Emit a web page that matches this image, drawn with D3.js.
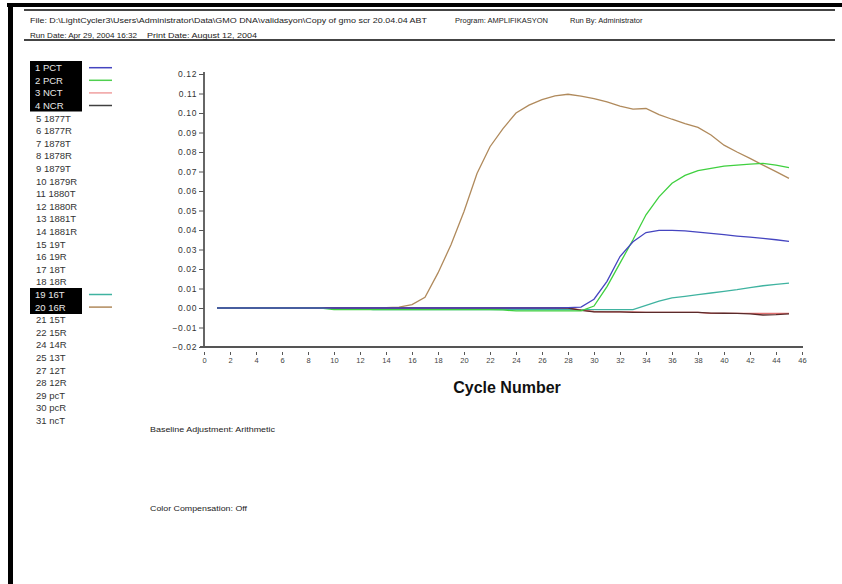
<!DOCTYPE html>
<html><head><meta charset="utf-8">
<script src="https://cdn.jsdelivr.net/npm/d3@7"></script>
<style>html,body{margin:0;padding:0;background:#fff;}svg{display:block;font-family:"Liberation Sans",Arial,sans-serif;}</style>
</head><body><svg id="c" width="842" height="584"></svg>
<script>
const cycles = [1,2,3,4,5,6,7,8,9,10,11,12,13,14,15,16,17,18,19,20,21,22,23,24,25,26,27,28,29,30,31,32,33,34,35,36,37,38,39,40,41,42,43,44,45];
const pct = [0,0,0,0,0,0,0,0,0,0,0,0,0,0,0,0,0,0,0,0,0,0,0,0,0,0,0,0.0002,0.0005,0.0045,0.0137,0.0264,0.034,0.0387,0.0398,0.0398,0.0395,0.0389,0.0383,0.0376,0.0369,0.0363,0.0357,0.035,0.0342];
const pcr = [0,0,0,0,0,0,0,0,0,-0.0008,-0.0008,-0.0008,-0.0008,-0.0008,-0.0008,-0.0008,-0.0008,-0.0008,-0.0008,-0.0008,-0.0008,-0.0008,-0.0010,-0.0015,-0.0015,-0.0015,-0.0015,-0.0015,-0.0015,0.001,0.011,0.023,0.035,0.0478,0.057,0.064,0.068,0.0705,0.0716,0.0728,0.0733,0.0738,0.0742,0.0733,0.072];
const nct = [0,0,0,0,0,0,0,0,0,0,0,0,0,0,0,0,0,0,0,0,0,0,0,0,0,0,0,0,-0.001,-0.0018,-0.002,-0.002,-0.002,-0.0022,-0.0022,-0.0022,-0.0022,-0.0022,-0.0028,-0.0028,-0.0028,-0.0028,-0.0028,-0.0028,-0.0028];
const ncr = [0,0,0,0,0,0,0,0,0,0,0,0,0,0,0,0,0,0,0,0,0,0,0,0,0,0,0,0,-0.0012,-0.002,-0.002,-0.002,-0.0022,-0.0022,-0.0022,-0.0022,-0.0022,-0.0022,-0.0026,-0.0027,-0.0028,-0.003,-0.0036,-0.0034,-0.003];
const s16T = [0,0,0,0,0,0,0,0,0,0,0,0,-0.0008,-0.0008,-0.0008,-0.0008,-0.0008,-0.0008,-0.0008,-0.0008,-0.0008,-0.0008,-0.0008,-0.0008,-0.0008,-0.0008,-0.0008,-0.0008,-0.0008,-0.0008,-0.0008,-0.0008,-0.0008,0.0013,0.0035,0.0052,0.006,0.0069,0.0077,0.0085,0.0094,0.0105,0.0114,0.0121,0.0128];
const s16R = [0,0,0,0,0,0,0,0,0,0,0,0,0.0001,0.0002,0.0005,0.0017,0.0055,0.018,0.0324,0.0495,0.069,0.0827,0.092,0.100,0.104,0.1069,0.1088,0.1096,0.1086,0.1074,0.1057,0.1035,0.102,0.1023,0.0992,0.0968,0.0946,0.0926,0.0887,0.0835,0.080,0.0767,0.0733,0.0699,0.0665];

const legendLabels = ["1 PCT","2 PCR","3 NCT","4 NCR","5 1877T","6 1877R","7 1878T","8 1878R","9 1879T","10 1879R","11 1880T","12 1880R","13 1881T","14 1881R","15 19T","16 19R","17 18T","18 18R","19 16T","20 16R","21 15T","22 15R","24 14R","25 13T","27 12T","28 12R","29 pcT","30 pcR","31 ncT"];
const xTicks = [0,2,4,6,8,10,12,14,16,18,20,22,24,26,28,30,32,34,36,38,40,42,44,46];
const yTicks = [0.12,0.11,0.10,0.09,0.08,0.07,0.06,0.05,0.04,0.03,0.02,0.01,0.00,-0.01,-0.02];

const series = [
  {name:"19 16T", values:s16T, color:"#3fb3a0"},
  {name:"20 16R", values:s16R, color:"#b08a5c"},
  {name:"3 NCT", values:nct, color:"#e07070"},
  {name:"4 NCR", values:ncr, color:"#5a2a2a"},
  {name:"2 PCR", values:pcr, color:"#3fd03f"},
  {name:"1 PCT", values:pct, color:"#4545c0"}
];
const swatch = {"1 PCT":"#4545c0","2 PCR":"#4fd04f","3 NCT":"#f0a0a0","4 NCR":"#404040","19 16T":"#3fb3a0","20 16R":"#b08a5c"};

const svg = d3.select("#c");
// page frame
svg.append("rect").attr("x",7).attr("y",3).attr("width",835).attr("height",4).attr("fill","#000");
svg.append("rect").attr("x",8).attr("y",3).attr("width",5).attr("height",581).attr("fill","#000");
svg.append("rect").attr("x",24).attr("y",9).attr("width",811).attr("height",2).attr("fill","#444");
svg.append("rect").attr("x",24).attr("y",39).attr("width",811).attr("height",2).attr("fill","#444");

const hdr = svg.append("g").attr("font-size",7.5).attr("fill","#222");
function htext(g,xp,yp,len,t){ const e=g.append("text").attr("x",xp).attr("y",yp).text(t); if(len) e.attr("textLength",len).attr("lengthAdjust","spacingAndGlyphs"); }
htext(hdr,30,23,397,"File: D:\\LightCycler3\\Users\\Administrator\\Data\\GMO DNA\\validasyon\\Copy of gmo scr 20.04.04 ABT");
htext(hdr,455,23,0,"Program: AMPLIFIKASYON");
htext(hdr,570,23,0,"Run By: Administrator");
htext(hdr,30,38,107,"Run Date: Apr 29, 2004 16:32");
htext(hdr,147,38,110,"Print Date:  August 12, 2004");

// legend
const rowY = i => 67.7 + i*12.6;
svg.append("rect").attr("x",30).attr("y",61).attr("width",52).attr("height",50.5).attr("fill","#000");
svg.append("rect").attr("x",30).attr("y",288).attr("width",52).attr("height",26).attr("fill","#000");
const lg = svg.append("g").attr("font-size",9.5);
legendLabels.forEach((lab,i)=>{
  const hi = swatch[lab] !== undefined;
  lg.append("text").attr("x",hi?35:36).attr("y",rowY(i)+3.4).attr("fill",hi?"#e8e8e8":"#333").text(lab);
  if(hi) lg.append("line").attr("x1",89).attr("x2",112).attr("y1",rowY(i)).attr("y2",rowY(i)).attr("stroke",swatch[lab]).attr("stroke-width",1.5);
});

// chart
const x = d3.scaleLinear().domain([0,46]).range([204,802]);
const y = d3.scaleLinear().domain([-0.02,0.12]).range([347,74]);

const yAxis = svg.append("g").attr("transform","translate(204,0)")
  .call(d3.axisLeft(y).tickValues(yTicks).tickFormat(d3.format(".2f")).tickSize(5).tickPadding(2));
yAxis.select(".domain").attr("stroke","#666").attr("stroke-width",2).attr("d","M0,72V348");
yAxis.selectAll(".tick line").attr("stroke","#555");
yAxis.selectAll(".tick text").attr("font-size",8.5).attr("letter-spacing",0.6).attr("fill","#333").attr("font-family","Liberation Sans, Arial");

const xAxis = svg.append("g").attr("transform","translate(0,347)")
  .call(d3.axisBottom(x).tickValues(xTicks).tickSize(0).tickPadding(11));
xAxis.select(".domain").attr("stroke","#555").attr("stroke-width",2).attr("d","M200,0H803");
xAxis.selectAll(".tick text").attr("font-size",7.5).attr("fill","#444").attr("font-family","Liberation Sans, Arial");
xAxis.selectAll(".tick").append("line").attr("y1",5).attr("y2",8).attr("stroke","#555");

const line = d3.line().x((d,i)=>x(cycles[i])).y(d=>y(d));
series.forEach(s=>{
  svg.append("path").datum(s.values).attr("d",line).attr("fill","none").attr("stroke",s.color).attr("stroke-width",1.3);
});

svg.append("text").attr("x",507).attr("y",393).attr("text-anchor","middle").attr("font-size",16).attr("font-weight","bold").attr("fill","#111").text("Cycle Number");

const notes = svg.append("g").attr("font-size",8).attr("fill","#222");
htext(notes,150,432,125,"Baseline Adjustment: Arithmetic");
htext(notes,150,511,97,"Color Compensation: Off");
</script></body></html>
